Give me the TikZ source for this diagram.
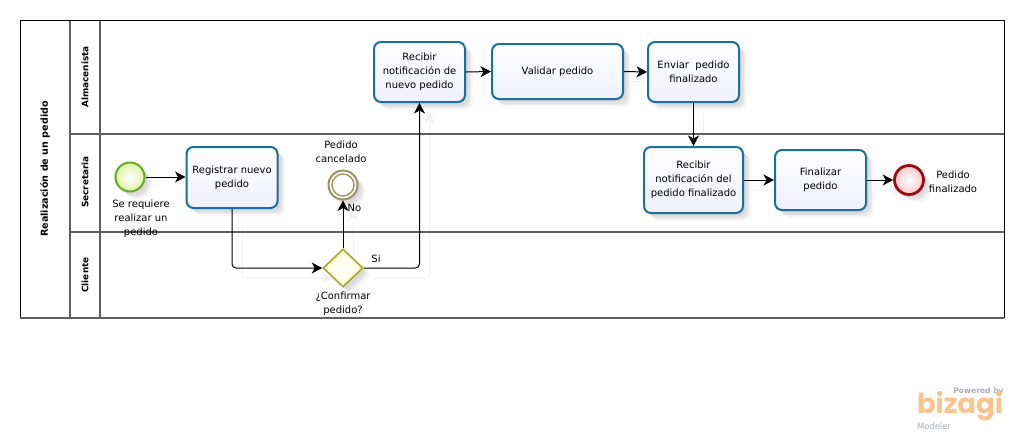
\documentclass[tikz,border=0pt]{standalone}
\usepackage{fontspec}
\setmainfont{DejaVu Sans}
\newfontfamily\logofont{Poppins}
\usetikzlibrary{arrows.meta,shapes.geometric,shadows,calc}
\pgfdeclarelayer{bglayer}
\pgfdeclarelayer{ghostlayer}
\pgfsetlayers{bglayer,ghostlayer,main}
\definecolor{taskline}{HTML}{1B6F9F}
\definecolor{lanegray}{HTML}{5F5F5F}
\definecolor{gateline}{HTML}{A8A828}
\definecolor{startline}{HTML}{6AA821}
\definecolor{startfill}{HTML}{DDF3A8}
\definecolor{endline}{HTML}{9E0B0F}
\definecolor{ringline}{HTML}{9B9462}
\definecolor{ghostline}{HTML}{F1F1F1}
\definecolor{logoorange}{HTML}{F9C48C}
\definecolor{logogray}{HTML}{A9ADB3}
\tikzset{
  softshadow/.style={
    general shadow={shadow xshift=3pt,shadow yshift=-3pt,fill=black,opacity=.04},
    general shadow={shadow xshift=5pt,shadow yshift=-5pt,fill=black,opacity=.04},
    general shadow={shadow xshift=6pt,shadow yshift=-6pt,fill=black,opacity=.04},
    general shadow={shadow xshift=8pt,shadow yshift=-8pt,fill=black,opacity=.03}},
  task/.style={draw=taskline,line width=2pt,rounded corners=7pt,top color=white,bottom color=blue!6,
    align=center,inner sep=0pt,font=\fontsize{10}{14}\selectfont,softshadow},
  evt/.style={circle,inner sep=0pt,minimum size=#1,softshadow},
  startevt/.style={evt=29pt,draw=startline,line width=2pt,inner color=white,outer color=startfill},
  endevt/.style={evt=29pt,draw=endline,line width=2.8pt,inner color=white,outer color=red!22},
  midevt/.style={evt=29pt,draw=ringline,line width=2pt,fill=white},
  gate/.style={diamond,aspect=1.05,inner sep=0pt,minimum width=40pt,minimum height=38pt,draw=gateline,line width=1.6pt,
    inner color=white,outer color=yellow!16,softshadow},
  lbl/.style={align=center,inner sep=0pt,font=\fontsize{10}{14}\selectfont},
  lanetitle/.style={rotate=90,inner sep=0pt,font=\fontsize{#1}{10}\selectfont\bfseries},
  flow/.style={draw=black,line width=1pt,rounded corners=4pt,-{Stealth[length=10.5pt,width=11pt,inset=3pt]}},
  ghost/.style={draw=ghostline,line width=1pt,rounded corners=4pt,-{Stealth[length=10pt,width=10pt,inset=3pt]}},
  poolline/.style={draw=black,line width=1pt},
  laneline/.style={draw=lanegray,line width=1.1pt},
}
\begin{document}
\begin{tikzpicture}[x=1pt,y=-1pt]
\begin{pgfonlayer}{bglayer}
\fill[white] (0,0) rectangle (1024,440);
\end{pgfonlayer}
\useasboundingbox (0,0) rectangle (1024,440);

% pool and lanes
\draw[laneline] (70,134) -- (1004,134);
\draw[laneline] (70,232) -- (1004,232);
\draw[laneline] (100,20) -- (100,318);
\draw[laneline] (70,20) -- (70,318);
\draw[poolline] (20,318) -- (20,20) -- (1004,20) -- (1004,318);
\draw[laneline,line width=1.6pt] (20,318) -- (1004,318);

\node[lanetitle=9.6] (pooltitle) at (45,169) {Realización de un pedido};
\node[lanetitle=8.9] (lanea) at (85,77) {Almacenista};
\node[lanetitle=8.9] (lanes) at (85,182) {Secretaria};
\node[lanetitle=8.9] (lanec) at (85,275) {Cliente};

% nodes
\node[task,minimum width=91pt,minimum height=61pt] (registrar) at (232,177.5) {Registrar nuevo\\pedido};
\node[task,minimum width=91pt,minimum height=60pt] (recibirA) at (419.5,72) {Recibir\\notificación de\\nuevo pedido};
\node[task,minimum width=131pt,minimum height=55pt] (validar) at (557.5,71.5) {Validar pedido};
\node[task,minimum width=91pt,minimum height=60pt] (enviar) at (693.5,72) {Enviar\ \ pedido\\finalizado};
\node[task,minimum width=99pt,minimum height=66pt] (recibirB) at (693.5,180) {Recibir\\notificación del\\pedido finalizado};
\node[task,minimum width=91pt,minimum height=60pt] (finalizar) at (820.5,180) {Finalizar\\pedido};
\node[startevt] (inicio) at (130,177) {};
\node[midevt] (cancel) at (343,185) {};
\node[draw=ringline,line width=1.4pt,circle,inner sep=0pt,minimum size=22pt] (cancelring) at (cancel) {};
\node[endevt] (fin) at (909,180) {};
\node[gate] (gw) at (343,268) {};

% connector shadows
\begin{pgfonlayer}{ghostlayer}
\begin{scope}[transform canvas={shift={(10pt,-10pt)}}]
\draw[ghost] (gw.east) -| (recibirA.south);
\draw[ghost] (gw.north) -- (cancel.south);
\draw[ghost] (registrar.south) |- (gw.west);
\draw[ghost] (enviar.south) -- (recibirB.north);
\draw[ghost] (recibirA.east) -- (validar.west);
\draw[ghost] (validar.east) -- (enviar.west);
\draw[ghost] (recibirB.east) -- (finalizar.west);
\draw[ghost] (finalizar.east) -- (fin.west);
\end{scope}
\end{pgfonlayer}

% connectors
\draw[flow] (inicio.east) -- (registrar.west |- inicio.east);
\draw[flow] (registrar.south) |- (gw.west);
\draw[flow] (gw.north) -- (cancel.south);
\draw[flow] (gw.east) -| (recibirA.south);
\draw[flow] (recibirA.east) -- (validar.west);
\draw[flow] (validar.east) -- (enviar.west);
\draw[flow] (enviar.south) -- (recibirB.north);
\draw[flow] (recibirB.east) -- (finalizar.west);
\draw[flow] (finalizar.east) -- (fin.west);

% labels
\node[lbl] (linicio) at (141,219) {Se requiere\\realizar un\\pedido};
\node[lbl] (lcancel) at (341,152) {Pedido\\cancelado};
\node[lbl] (lno) at (354.5,208) {No};
\node[lbl] (lsi) at (376,259) {Si};
\node[lbl] (lgw) at (343,304) {¿Confirmar\\pedido?};
\node[lbl] (lfin) at (953,182) {Pedido\\finalizado};

% logo
\node[inner sep=0pt,text=logogray,font=\fontsize{7.6}{9}\selectfont\bfseries] (powered) at (978.5,391.5) {Powered by};
\node[inner sep=0pt,text=logoorange,font=\logofont\bfseries\fontsize{27.5}{28}\selectfont] (bizagi) at (960,406.5) {bizagi};
\node[inner sep=0pt,text=logogray,font=\fontsize{8.4}{10}\selectfont] (modeler) at (934,426) {Modeler};
\end{tikzpicture}
\end{document}
